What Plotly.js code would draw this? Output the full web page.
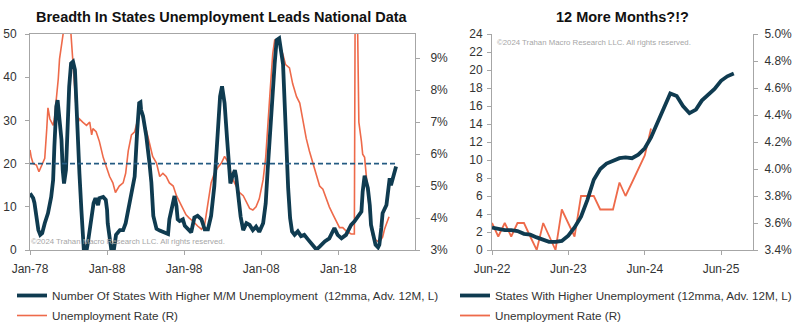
<!DOCTYPE html>
<html>
<head>
<meta charset="utf-8">
<script src="https://cdn.plot.ly/plotly-3.0.1.min.js"></script>
<style>
html,body{margin:0;padding:0;background:#ffffff;}
#chart{width:800px;height:322px;}
</style>
</head>
<body>
<div id="chart"></div>
<script>
// ---------- Left chart: history ----------
const histDates = ['1978-01','1978-06','1978-08','1978-11','1979-02','1979-05','1979-08','1979-12','1980-05','1980-10',
'1981-01','1981-03','1981-06','1981-08','1981-11','1982-02','1982-04','1982-06','1982-09','1982-11',
'1983-02','1983-05','1983-08','1983-11','1984-01','1984-04','1984-06','1984-09','1984-11','1985-01',
'1985-02','1985-04','1985-07','1985-10','1986-01','1986-04','1986-07','1986-11','1987-01','1987-07',
'1987-11','1988-01','1988-02','1988-05','1988-07','1988-09','1988-11','1989-01','1989-03','1989-09',
'1990-02','1990-06','1990-10','1991-03','1991-08','1991-12','1992-03','1992-05','1992-06','1992-09',
'1993-02','1993-07','1993-10','1994-01','1994-06','1994-11','1995-07','1995-12','1996-02','1996-05',
'1996-10','1997-01','1997-03','1997-06','1997-11','1998-02','1998-07','1998-12','1999-05','1999-10',
'2000-04','2000-09','2001-02','2001-07','2001-12','2002-06','2002-09','2002-12','2003-04','2003-08',
'2003-11','2004-01','2004-04','2004-08','2004-10','2005-01','2005-05','2005-09','2006-02','2006-07',
'2006-12','2007-05','2007-10','2008-04','2008-08','2008-11','2009-03','2009-06','2009-10','2010-01',
'2010-05','2010-11','2011-01','2011-04','2011-07','2011-10','2012-01','2012-05','2012-10','2013-03',
'2013-08','2014-02','2014-07','2015-03','2015-08','2016-04','2016-11','2017-07','2017-12','2018-06',
'2019-01','2019-09','2020-02','2020-07','2021-01','2021-03','2021-06','2021-11','2022-02','2022-04',
'2022-07','2022-11','2023-03','2023-05','2023-08','2023-10','2024-04','2024-07','2024-09','2024-11',
'2025-02','2025-05','2025-07'];
const histStates = [13.1,12.0,10.9,7.7,4.6,3.5,3.9,6.2,8.5,12.3,
16.2,23.9,33.2,34.7,30.9,25.5,18.5,15.4,18.5,27.8,
37.8,43.2,43.6,41.7,33.2,26.2,17.7,9.3,3.1,-0.5,
0.5,-1.0,1.5,4.6,7.7,10.8,12.0,10.4,12.0,12.3,
11.6,9.3,6.2,3.1,0.8,-1.5,-0.5,1.2,3.5,4.6,
4.6,6.2,9.3,12.3,17.0,27.8,34.0,34.2,32.4,31.0,
26.4,20.2,15.6,7.9,4.9,4.5,4.0,3.7,7.1,9.4,
12.5,10.2,7.1,6.7,7.1,5.6,4.9,4.1,7.5,7.9,
7.1,4.8,4.8,7.9,14.8,27.9,35.6,37.9,34.0,25.5,
18.5,15.4,17.0,18.5,17.0,13.1,7.7,4.6,6.2,5.8,
4.6,5.4,4.2,6.2,10.8,18.5,27.8,35.5,43.2,48.6,
49.0,43.0,35.0,23.5,14.3,7.4,4.3,3.5,4.3,3.2,
3.5,2.4,1.6,0.1,0.8,2.0,2.7,5.1,3.5,2.7,
3.5,5.8,6.6,7.7,8.9,13.5,17.2,14.3,10.4,5.8,
3.5,1.2,0.6,1.2,5.1,8.5,10.4,14.3,16.6,15.0,
16.6,18.1,19.3];
const thresholdValue = 20;

const rateDates = ['1978-01','1978-03','1978-06','1978-11','1979-03','1979-07','1979-12','1980-03','1980-05','1980-08',
'1980-10','1981-01','1981-03','1981-06','1981-09','1981-11','1982-03','1982-07','1982-12','1983-04',
'1983-07','1983-11','1984-01','1984-04','1984-06','1984-11','1985-05','1985-10','1986-01','1986-03',
'1986-08','1987-01','1987-07','1987-12','1988-05','1988-10','1989-02','1989-08','1990-02','1990-06',
'1990-10','1991-03','1991-08','1992-01','1992-05','1992-09','1993-02','1993-07','1993-12','1994-06',
'1994-11','1995-04','1995-09','1996-02','1996-08','1997-01','1997-06','1997-11','1998-04','1998-09',
'1999-03','1999-10','2000-04','2000-09','2001-02','2001-07','2001-12','2002-06','2002-11','2003-04',
'2003-08','2003-12','2004-05','2004-10','2005-03','2005-09','2006-02','2006-07','2006-12','2007-05',
'2007-10','2008-04','2008-08','2008-11','2009-03','2009-07','2009-10','2010-03','2010-08','2010-11',
'2011-03','2011-09','2012-02','2012-08','2013-01','2013-06','2013-11','2014-04','2014-10','2015-03',
'2015-08','2016-01','2016-06','2016-11','2017-05','2017-10','2018-03','2018-08','2019-01','2019-09',
'2020-02','2020-04','2020-06','2020-08','2020-09','2021-01','2021-03','2021-06','2021-08','2021-11',
'2022-02','2022-04','2022-07','2022-12','2023-05','2023-10','2024-01','2024-06','2024-08'];
const rateValues = [6.13,5.9,5.7,5.66,5.45,5.66,5.87,6.75,7.45,7.1,
7.0,6.9,7.1,7.7,8.35,8.98,9.5,10.3,10.8,10.0,
9.1,8.2,7.4,7.0,7.1,7.0,6.9,7.0,6.6,6.8,
6.7,6.4,5.9,5.6,5.3,5.1,4.8,5.0,5.1,5.4,
6.1,6.6,6.7,7.1,7.5,7.07,6.76,6.35,5.93,5.72,
5.3,5.4,5.3,5.1,5.0,4.7,4.5,4.3,4.1,4.0,
3.9,3.75,3.65,3.8,4.4,5.1,5.4,5.6,5.72,5.93,
5.8,5.5,5.2,5.0,4.8,4.7,4.5,4.3,4.25,4.35,
4.6,5.2,5.9,6.96,8.0,9.15,9.57,9.6,9.3,9.1,
8.8,8.7,8.2,7.8,7.6,7.0,6.5,6.1,5.7,5.4,
5.0,4.9,4.6,4.35,4.1,3.9,3.7,3.7,3.6,3.5,
3.5,14.7,11.0,8.4,7.0,6.4,6.0,5.9,5.5,4.9,
4.25,3.7,3.4,3.3,3.25,3.4,3.65,3.9,4.04];

// ---------- Right chart: recent ----------
const recentMonths = ['2022-06','2022-07','2022-08','2022-09','2022-10','2022-11','2022-12',
'2023-01','2023-02','2023-03','2023-04','2023-05','2023-06','2023-07','2023-08','2023-09','2023-10','2023-11','2023-12',
'2024-01','2024-02','2024-03','2024-04','2024-05','2024-06','2024-07','2024-08','2024-09','2024-10','2024-11','2024-12',
'2025-01','2025-02','2025-03','2025-04','2025-05','2025-06','2025-07','2025-08'];
const recentStates = [2.5,2.3,2.2,2.2,2.1,1.8,1.7,
1.4,1.1,0.9,0.9,1.0,1.6,2.5,3.7,5.6,7.8,9.0,9.6,
9.9,10.2,10.3,10.2,10.6,11.3,12.5,14.2,15.9,17.4,17.1,16.0,
15.2,15.6,16.6,17.2,17.9,18.8,19.3,19.6];
const recentRateMonths = ['2022-06','2022-07','2022-08','2022-09','2022-10','2022-11','2022-12',
'2023-01','2023-02','2023-03','2023-04','2023-05','2023-06','2023-07','2023-08','2023-09','2023-10','2023-11','2023-12',
'2024-01','2024-02','2024-03','2024-04','2024-05','2024-06','2024-07'];
const recentRate = [3.6,3.5,3.6,3.5,3.6,3.6,3.5,
3.4,3.6,3.5,3.4,3.7,3.6,3.5,3.8,3.8,3.8,3.7,3.7,
3.7,3.9,3.8,3.9,4.0,4.1,4.3];

const leftTickLabelsY = [0,10,20,30,40,50];

// ---------- styles ----------
const FONT = 'Liberation Sans, Arial, sans-serif';
const BLUE = '#0f3b50';
const ORANGE = '#ee6a4a';
const DASH = '#245b82';
const AXIS = '#a6a6a6';
const TXT = '#333333';

const H = 322, W = 800;
const yDom = [(H-250)/H, (H-34)/H];

function axisBase(extra){
  return Object.assign({
    showline:true, linecolor:AXIS, linewidth:1,
    ticks:'outside', ticklen:4, tickcolor:AXIS, tickwidth:1,
    showgrid:false, zeroline:false, automargin:false,
    tickfont:{family:FONT, size:12, color:TXT}
  }, extra);
}

const traces = [
  {x:histDates, y:histStates, xaxis:'x', yaxis:'y2', type:'scatter', mode:'lines',
   name:'Number Of States With Higher M/M Unemployment\u00a0 (12mma, Adv. 12M, L)',
   line:{color:BLUE, width:3.8}, legend:'legend', legendgroup:'a'},
  {x:rateDates, y:rateValues, xaxis:'x', yaxis:'y', type:'scatter', mode:'lines',
   name:'Unemployment Rate (R)', line:{color:ORANGE, width:1.6}, legend:'legend', legendgroup:'b'},
  {x:[histDates[0], histDates[histDates.length-1]], y:[thresholdValue, thresholdValue],
   xaxis:'x', yaxis:'y2', type:'scatter', mode:'lines', showlegend:false,
   line:{color:DASH, width:1.7, dash:'5px,3px'}},
  {x:recentMonths, y:recentStates, xaxis:'x2', yaxis:'y4', type:'scatter', mode:'lines',
   name:'States With Higher Unemployment (12mma, Adv. 12M, L)',
   line:{color:BLUE, width:3.8}, legend:'legend2', legendgroup:'c'},
  {x:recentRateMonths, y:recentRate, xaxis:'x2', yaxis:'y3', type:'scatter', mode:'lines',
   name:'Unemployment Rate (R)', line:{color:ORANGE, width:1.8}, legend:'legend2', legendgroup:'d'}
];

const legendBase = {xref:'container', yref:'container', xanchor:'left', y:(H-281)/H, yanchor:'top', orientation:'v',
  font:{family:FONT, size:11.7, color:TXT}, bgcolor:'rgba(0,0,0,0)', itemwidth:30, tracegroupgap:1};

const layout = {
  width:W, height:H,
  margin:{l:0, r:0, t:0, b:0, autoexpand:false},
  paper_bgcolor:'#ffffff', plot_bgcolor:'rgba(0,0,0,0)',
  font:{family:FONT, color:TXT},
  showlegend:true,
  xaxis: axisBase({type:'date', domain:[30/W, 415/W], anchor:'y',
    range:['1978-01-01','2027-12-15'], tick0:'1978-01-01', dtick:'M120', tickformat:'%b-%y',
    mirror:true, ticklabelstandoff:4}),
  yaxis: axisBase({domain:yDom, anchor:'x', side:'right', range:[3, 9.76],
    tick0:3, dtick:1, ticksuffix:'%', ticklabelstandoff:8}),
  yaxis2: axisBase({domain:yDom, anchor:'x', side:'left', overlaying:'y', range:[0,50],
    tickvals:leftTickLabelsY, ticklabelstandoff:6}),
  xaxis2: axisBase({type:'date', domain:[492/W, 753/W], anchor:'y3',
    range:['2022-06-01','2025-11-01'], tick0:'2022-06-01', dtick:'M12', tickformat:'%b-%y',
    ticklabelstandoff:4}),
  yaxis3: axisBase({domain:yDom, anchor:'x2', side:'right', range:[3.4, 5.0],
    tick0:3.4, dtick:0.2, tickformat:'.1f', ticksuffix:'%', ticklabelstandoff:4}),
  yaxis4: axisBase({domain:yDom, anchor:'x2', side:'left', overlaying:'y3', range:[0,24],
    tick0:0, dtick:2, ticklabelstandoff:2}),
  legend: Object.assign({x:12/W}, legendBase),
  legend2: Object.assign({x:455/W}, legendBase),
  annotations:[
    {text:'<b>Breadth In States Unemployment Leads National Data</b>', xref:'paper', yref:'paper',
     x:222/W, y:(H-17)/H, xanchor:'center', yanchor:'middle', showarrow:false,
     font:{family:FONT, size:14.5, color:'#111111'}},
    {text:'<b>12 More Months?!?</b>', xref:'paper', yref:'paper',
     x:622/W, y:(H-17)/H, xanchor:'center', yanchor:'middle', showarrow:false,
     font:{family:FONT, size:14.5, color:'#111111'}},
    {text:'©2024 Trahan Macro Research LLC. All rights reserved.', xref:'paper', yref:'paper',
     x:29/W, y:(H-241.5)/H, xanchor:'left', yanchor:'middle', showarrow:false,
     font:{family:FONT, size:7.8, color:'#a6a6a6'}},
    {text:'©2024 Trahan Macro Research LLC. All rights reserved.', xref:'paper', yref:'paper',
     x:495/W, y:(H-42.7)/H, xanchor:'left', yanchor:'middle', showarrow:false,
     font:{family:FONT, size:7.8, color:'#a6a6a6'}}
  ]
};

Plotly.newPlot('chart', traces, layout, {staticPlot:true, displayModeBar:false});
</script>
</body>
</html>
